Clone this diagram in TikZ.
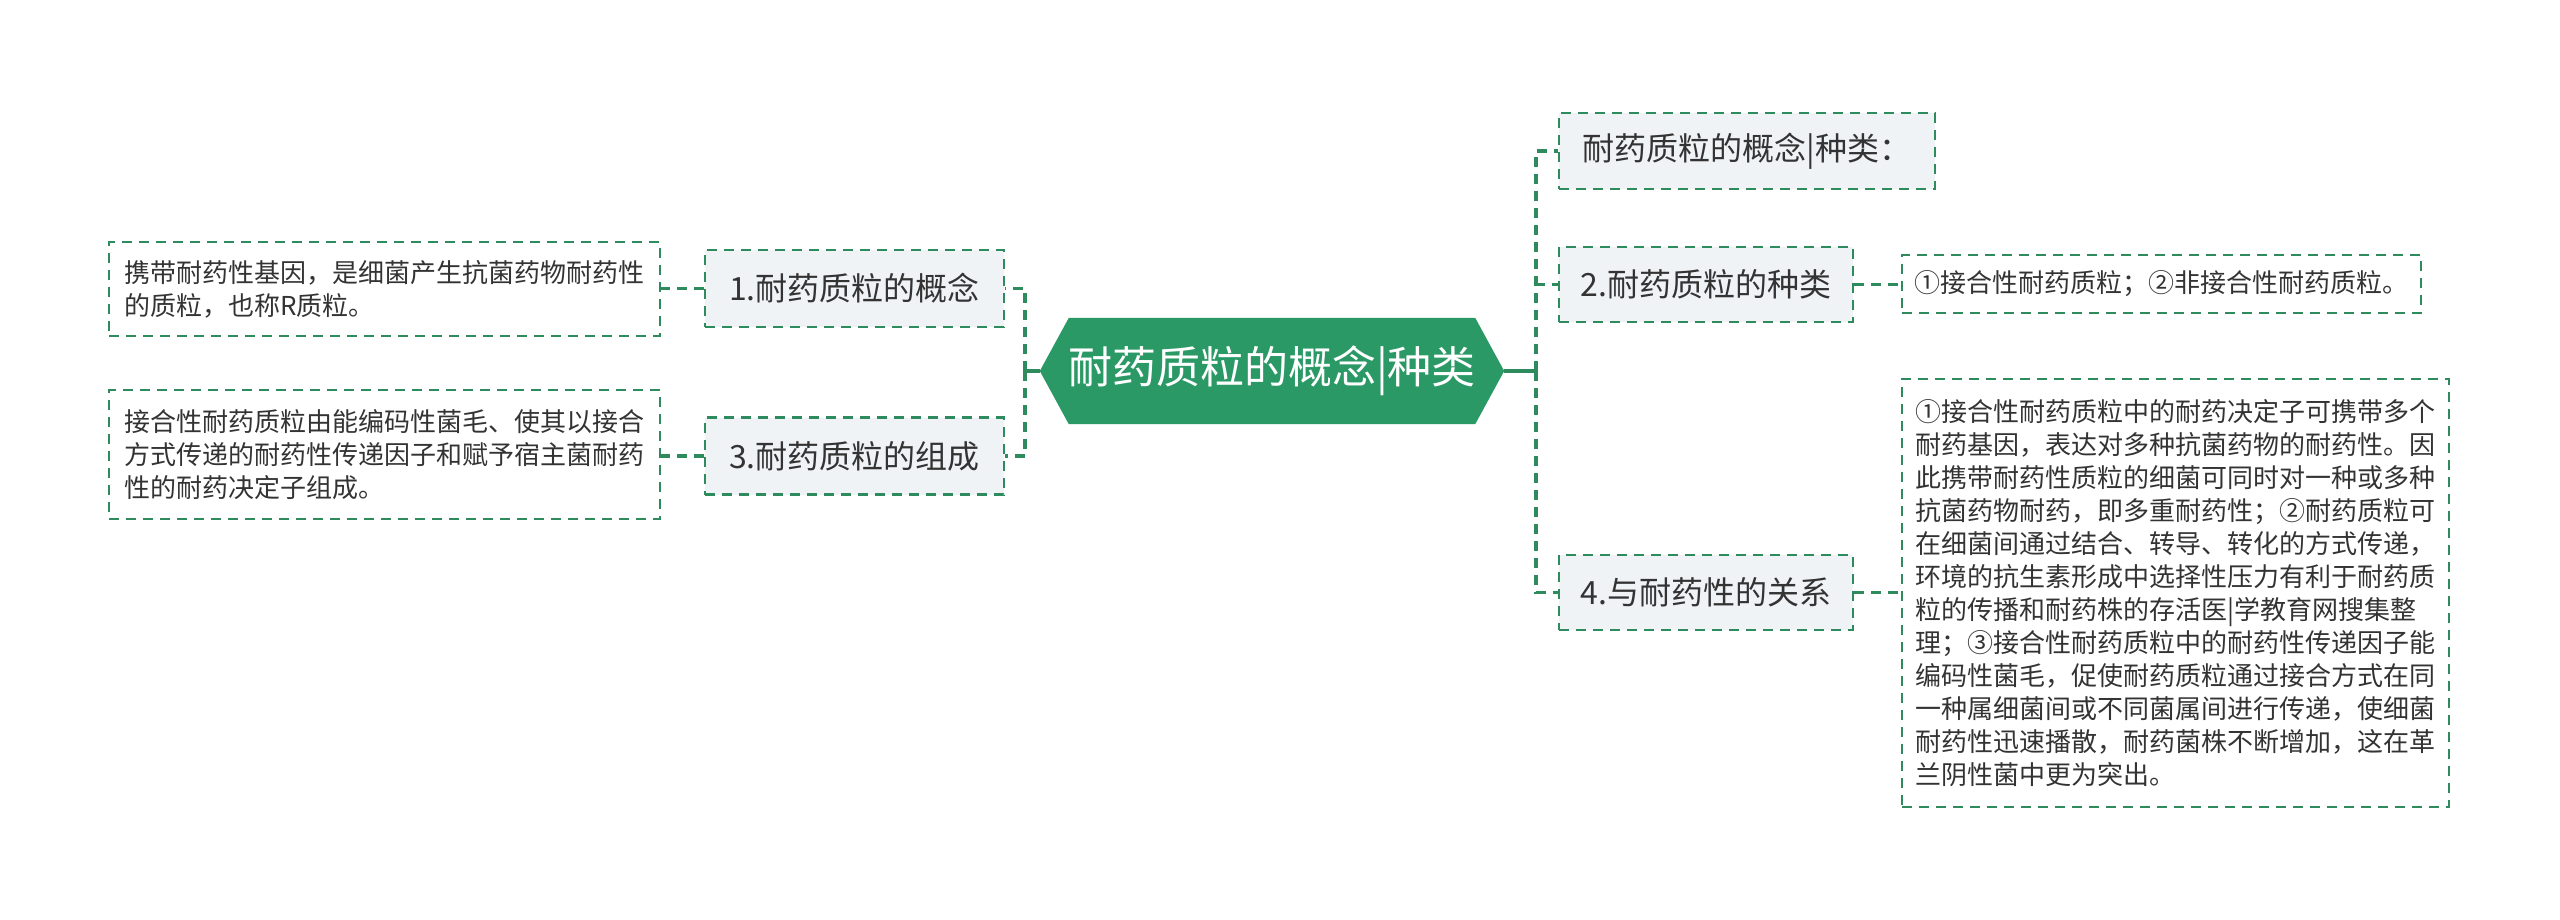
\documentclass[tikz,border=0pt]{standalone}
\usepackage{fontspec}
\setmainfont{Noto Sans CJK SC}
\usetikzlibrary{backgrounds}
\definecolor{lc}{RGB}{46,139,94}
\definecolor{cfill}{RGB}{43,153,102}
\definecolor{nfill}{RGB}{240,243,246}
\definecolor{txt}{RGB}{51,51,51}
\begin{document}
\begin{tikzpicture}[x=1pt,y=-1pt,
  every node/.style={text=txt, inner sep=0pt},
  dashconn/.style={draw=lc, line width=3.4pt, dash pattern=on 10pt off 7pt},
  solidconn/.style={draw=lc, line width=3.4pt},
  mainnode/.style={draw=lc, fill=nfill, line width=2.4pt, dash pattern=on 10pt off 7pt,
    font=\fontsize{32}{38}\selectfont, align=center},
  leaf/.style={draw=lc, line width=2.4pt, dash pattern=on 10pt off 7pt,
    font=\fontsize{26}{33}\selectfont, align=left, inner xsep=15pt},
]
\useasboundingbox (0,0) rectangle (2560,919);

% central
\node[minimum width=464pt, minimum height=106pt, text=white,
  font=\fontsize{44}{50}\selectfont] (c) at (1272,371) {耐药质粒的概念|种类};
\begin{scope}[on background layer]
\fill[cfill] (c.west) -- ([xshift=29pt]c.north west) -- ([xshift=-29pt]c.north east)
  -- (c.east) -- ([xshift=-29pt]c.south east) -- ([xshift=29pt]c.south west) -- cycle;
\end{scope}

% left branches
\node[mainnode, minimum width=299pt, minimum height=77pt] (n1) at (854.5,288.5) {1.耐药质粒的概念};
\node[mainnode, minimum width=299pt, minimum height=77pt] (n3) at (854.5,456) {3.耐药质粒的组成};
\node[leaf, text width=521pt, minimum height=94pt] (l1) at (384.5,289)
  {携带耐药性基因，是细菌产生抗菌药物耐药性\\的质粒，也称R质粒。};
\node[leaf, text width=521pt, minimum height=129pt] (l3) at (384.5,454.5)
  {接合性耐药质粒由能编码性菌毛、使其以接合\\方式传递的耐药性传递因子和赋予宿主菌耐药\\性的耐药决定子组成。};

% right branches
\node[mainnode, minimum width=376pt, minimum height=76pt] (t) at (1747,151) {耐药质粒的概念|种类：};
\node[mainnode, minimum width=294pt, minimum height=75pt] (n2) at (1706,284.5) {2.耐药质粒的种类};
\node[mainnode, minimum width=294pt, minimum height=75pt] (n4) at (1706,592.5) {4.与耐药性的关系};
\node[leaf, inner xsep=12pt, text width=495pt, minimum height=58pt] (l2) at (2161.5,284)
  {①接合性耐药质粒；②非接合性耐药质粒。};
\node[leaf, inner xsep=13pt, text width=521pt, minimum height=428pt] (l4) at (2175.5,593)
  {①接合性耐药质粒中的耐药决定子可携带多个\\
   耐药基因，表达对多种抗菌药物的耐药性。因\\
   此携带耐药性质粒的细菌可同时对一种或多种\\
   抗菌药物耐药，即多重耐药性；②耐药质粒可\\
   在细菌间通过结合、转导、转化的方式传递，\\
   环境的抗生素形成中选择性压力有利于耐药质\\
   粒的传播和耐药株的存活医|学教育网搜集整\\
   理；③接合性耐药质粒中的耐药性传递因子能\\
   编码性菌毛，促使耐药质粒通过接合方式在同\\
   一种属细菌间或不同菌属间进行传递，使细菌\\
   耐药性迅速播散，耐药菌株不断增加，这在革\\
   兰阴性菌中更为突出。};

% junctions
\coordinate (jL) at (1025,371);
\coordinate (jR) at (1536,371);

\draw[solidconn] (c.west) -- (jL);
\draw[solidconn] (c.east) -- (jR);
\draw[dashconn] (jL) |- (n1.east);
\draw[dashconn] (jL) |- (n3.east);
\draw[dashconn] (jR) |- (t.west);
\draw[dashconn] (jR) |- (n2.west);
\draw[dashconn] (jR) |- (n4.west);
\draw[dashconn] (n1.west) -- (n1.west -| l1.east);
\draw[dashconn] (n3.west) -- (n3.west -| l3.east);
\draw[dashconn] (n2.east) -- (n2.east -| l2.west);
\draw[dashconn] (n4.east) -- (n4.east -| l4.west);
\end{tikzpicture}
\end{document}
